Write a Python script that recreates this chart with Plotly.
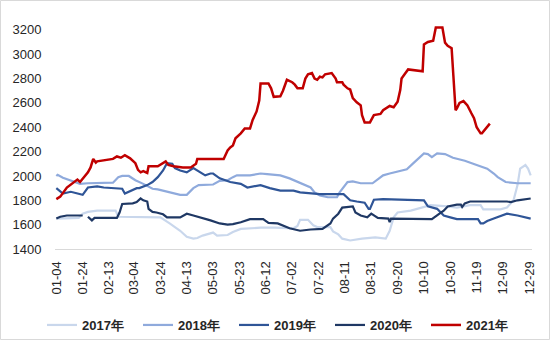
import plotly.graph_objects as go

# ---- data ----
tick_labels = ["01-04", "01-24", "02-13", "03-04", "03-24", "04-13", "05-03", "05-23",
               "06-12", "07-02", "07-22", "08-11", "08-31", "09-20", "10-10", "10-30",
               "11-19", "12-09", "12-29"]
y_ticks = [1400, 1600, 1800, 2000, 2200, 2400, 2600, 2800, 3000, 3200]

d2017 = ["01-04", "01-21", "01-24", "01-28", "02-04", "02-18", "02-20", "03-24", "03-31", "04-08",
         "04-13", "04-18", "04-21", "04-25", "05-03", "05-06", "05-14", "05-18", "05-24", "06-08",
         "06-19", "07-03", "07-06", "07-08", "07-14", "07-18", "07-21", "07-31", "08-02", "08-06",
         "08-09", "08-15", "08-24", "09-03", "09-11", "09-14", "09-17", "09-20", "09-30", "10-05",
         "10-15", "10-28", "11-04", "11-14", "11-22", "11-24", "12-07", "12-12", "12-17", "12-20",
         "12-22", "12-26", "12-28", "12-30"]
v2017 = [1650, 1655, 1690, 1705, 1715, 1715, 1665, 1660, 1610, 1550,
         1500, 1485, 1490, 1510, 1535, 1510, 1515, 1540, 1565, 1575,
         1575, 1570, 1590, 1640, 1640, 1595, 1580, 1580, 1545, 1520,
         1485, 1470, 1485, 1495, 1485, 1550, 1660, 1700, 1715, 1730,
         1760, 1750, 1740, 1760, 1760, 1725, 1725, 1740, 1800, 1925,
         2060, 2090, 2060, 2005]

d2018 = ["01-04", "01-05", "01-09", "01-16", "01-22", "01-28", "02-16", "02-20", "02-23", "02-28",
         "03-05", "03-11", "03-18", "03-22", "03-28", "04-03", "04-08", "04-13", "04-16", "04-18",
         "04-22", "05-01", "05-03", "05-08", "05-14", "05-18", "05-21", "05-31", "06-08", "06-13",
         "06-19", "06-23", "06-30", "07-08", "07-16", "07-19", "07-23", "07-29", "08-05", "08-07",
         "08-10", "08-13", "08-17", "08-23", "09-01", "09-04", "09-09", "09-14", "09-22", "09-27",
         "10-02", "10-07", "10-10", "10-13", "10-16", "10-20", "10-26", "11-01", "11-10", "11-19",
         "11-27", "12-02", "12-05", "12-11", "12-20", "12-30"]
v2018 = [2000, 2010, 1985, 1960, 1935, 1940, 1945, 1990, 2000, 2000,
         1965, 1935, 1895, 1890, 1875, 1855, 1845, 1845, 1880, 1900,
         1925, 1925, 1930, 1960, 1965, 1990, 2005, 2005, 2020, 2015,
         2010, 2005, 1980, 1945, 1905, 1865, 1840, 1825, 1825, 1865,
         1905, 1950, 1955, 1940, 1940, 1965, 2005, 2020, 2045, 2055,
         2105, 2155, 2185, 2180, 2155, 2185, 2180, 2150, 2125, 2090,
         2060, 2020, 1990, 1950, 1940, 1940]

d2019 = ["01-04", "01-07", "01-09", "01-15", "01-20", "01-24", "01-28", "02-04", "02-09", "02-19",
         "02-23", "02-25", "03-01", "03-06", "03-08", "03-14", "03-18", "03-22", "03-26", "03-29",
         "04-02", "04-04", "04-08", "04-13", "04-18", "04-23", "04-27", "05-01", "05-03", "05-08",
         "05-16", "05-24", "05-29", "06-08", "06-15", "06-23", "07-03", "07-08", "07-16", "07-23",
         "08-10", "08-15", "08-20", "08-26", "08-29", "08-30", "09-02", "09-09", "10-10", "10-13",
         "10-20", "10-25", "10-30", "11-04", "11-20", "11-22", "11-24", "11-27", "12-02", "12-07",
         "12-12", "12-20", "12-25", "12-30"]
v2019 = [1900, 1870, 1855, 1870, 1855, 1845, 1905, 1915, 1905, 1900,
         1895, 1855, 1875, 1900, 1900, 1925, 1950, 1990, 2045, 2105,
         2100, 2065, 2045, 2030, 2065, 2030, 2005, 2020, 2020, 1980,
         1950, 1935, 1905, 1925, 1900, 1880, 1880, 1865, 1855, 1850,
         1850, 1800, 1790, 1780, 1730, 1730, 1805, 1810, 1800, 1750,
         1730, 1675, 1660, 1645, 1645, 1610, 1610, 1630, 1650, 1670,
         1690, 1675, 1660, 1650]

d2020 = ["01-04", "01-07", "01-12", "01-24", "01-26", "01-28", "01-31", "02-02", "02-19", "02-21",
         "02-23", "03-03", "03-06", "03-09", "03-11", "03-14", "03-15", "03-18", "03-21", "03-26",
         "03-29", "04-08", "04-13", "04-18", "04-25", "05-01", "05-08", "05-14", "05-18", "05-24",
         "05-31", "06-10", "06-14", "06-21", "06-30", "07-08", "07-16", "07-25", "07-31", "08-02",
         "08-06", "08-09", "08-17", "08-19", "08-23", "08-28", "08-31", "09-05", "09-13", "09-14",
         "09-15", "10-16", "10-21", "10-25", "10-28", "11-04", "11-07", "11-08", "11-10", "11-14",
         "12-12", "12-15", "12-20", "12-25", "12-30"]
v2020 = [1650, 1665, 1675, 1675, None, 1665, 1635, 1655, 1655, 1700,
         1770, 1775, 1785, 1815, 1800, 1790, 1730, 1705, 1700, 1685,
         1660, 1660, 1690, 1675, 1655, 1635, 1610, 1600, 1605, 1620,
         1645, 1645, 1615, 1610, 1570, 1550, 1560, 1565, 1610, 1650,
         1690, 1740, 1750, 1700, 1675, 1660, 1690, 1655, 1650, 1620,
         1650, 1645, 1685, 1715, 1750, 1765, 1765, 1745, 1775, 1790,
         1790, 1785, 1800, 1810, 1815]

d2021 = ["01-04", "01-07", "01-12", "01-17", "01-20", "01-22", "01-25", "01-28", "01-30", "02-01",
         "02-03", "02-04", "02-16", "02-19", "02-22", "02-25", "03-01", "03-05", "03-07", "03-09",
         "03-11", "03-14", "03-15", "03-22", "03-28", "03-30", "04-03", "04-10", "04-16", "04-20",
         "04-21", "05-11", "05-14", "05-16", "05-18", "05-20", "05-24", "05-27", "05-31", "06-02",
         "06-05", "06-07", "06-08", "06-14", "06-16", "06-18", "06-23", "06-25", "06-28", "07-02",
         "07-04", "07-06", "07-10", "07-12", "07-14", "07-17", "07-19", "07-21", "07-23", "07-25",
         "07-27", "08-01", "08-04", "08-05", "08-09", "08-10", "08-13", "08-15", "08-17", "08-20",
         "08-23", "08-24", "08-26", "08-30", "09-02", "09-07", "09-09", "09-14", "09-17", "09-20",
         "09-22", "09-23", "09-26", "09-28", "10-09", "10-10", "10-13", "10-17", "10-19", "10-24",
         "10-26", "10-28", "10-31", "11-03", "11-04", "11-06", "11-09", "11-12", "11-15", "11-17",
         "11-19", "11-22", "11-23", "11-25", "11-29"]
v2021 = [1810, 1830, 1905, 1950, 1970, 1950, 1990, 2030, 2070, 2140,
         2110, 2120, 2140, 2160, 2150, 2170, 2145, 2105, 2050, 2030,
         2040, 2025, 2080, 2080, 2120, 2090, 2080, 2070, 2070, 2100,
         2140, 2140, 2210, 2235, 2250, 2310, 2350, 2390, 2390, 2460,
         2530, 2620, 2760, 2760, 2720, 2650, 2655, 2700, 2790, 2770,
         2750, 2720, 2720, 2800, 2835, 2845, 2800, 2790, 2815, 2810,
         2835, 2845, 2800, 2770, 2770, 2750, 2720, 2710, 2640, 2605,
         2580, 2500, 2440, 2440, 2500, 2510, 2540, 2575, 2565, 2610,
         2705, 2800, 2845, 2875, 2860, 3080, 3100, 3110, 3220, 3220,
         3095, 3070, 3050, 2540, 2555, 2600, 2615, 2580, 2515, 2475,
         2400, 2350, 2350, 2375, 2430]

series = [
    ("2017年", d2017, v2017, "#C9D7EC", 2.2),
    ("2018年", d2018, v2018, "#8FAADC", 2.2),
    ("2019年", d2019, v2019, "#2F5597", 2.2),
    ("2020年", d2020, v2020, "#1F3864", 2.2),
    ("2021年", d2021, v2021, "#C00000", 2.5),
]

YEAR = "2021-"

fig = go.Figure()
for name, dates, vals, color, w in series:
    fig.add_trace(go.Scatter(
        x=[YEAR + d for d in dates], y=vals, name=name, mode="lines",
        line=dict(color=color, width=w), connectgaps=False,
    ))

W, H = 550, 340
ML, MR, MT, MB = 55, 18, 25, 91
PW, PH = W - ML - MR, H - MT - MB

fig.update_layout(
    width=W, height=H,
    margin=dict(l=ML, r=MR, t=MT, b=MB, pad=0),
    paper_bgcolor="white", plot_bgcolor="white",
    font=dict(family="Liberation Sans, Arial, sans-serif", size=13, color="#262626"),
    showlegend=True,
    legend=dict(
        orientation="h", xref="container", yref="container",
        x=42 / W, y=1 - 325 / H, xanchor="left", yanchor="middle",
        entrywidth=51, entrywidthmode="pixels",
        font=dict(size=13, color="#262626", weight="bold"),
        bgcolor="rgba(0,0,0,0)", itemwidth=30, tracegroupgap=0,
    ),
    xaxis=dict(
        type="date", range=["2021-01-03", "2021-12-31"],
        tickvals=[YEAR + t for t in tick_labels], ticktext=tick_labels,
        tickangle=-90, showgrid=False, zeroline=False,
        showline=True, linecolor="#D9D9D9", linewidth=1,
        ticks="outside", ticklen=6, tickcolor="rgba(0,0,0,0)",
        tickfont=dict(size=13, color="#262626"),
    ),
    yaxis=dict(
        range=[1400, 3240], tickvals=y_ticks,
        showgrid=False, zeroline=False, showline=False,
        ticks="outside", ticklen=10, tickcolor="rgba(0,0,0,0)",
        tickfont=dict(size=13, color="#262626"),
    ),
    shapes=[dict(
        type="rect", xref="paper", yref="paper",
        x0=(0.5 - ML) / PW, x1=(W - 0.5 - ML) / PW,
        y0=-(MB - 0.5) / PH, y1=(PH + MT - 0.5) / PH,
        line=dict(color="#D9D9D9", width=1), fillcolor="rgba(0,0,0,0)", layer="below",
    )],
)

fig.write_html("out.html")
